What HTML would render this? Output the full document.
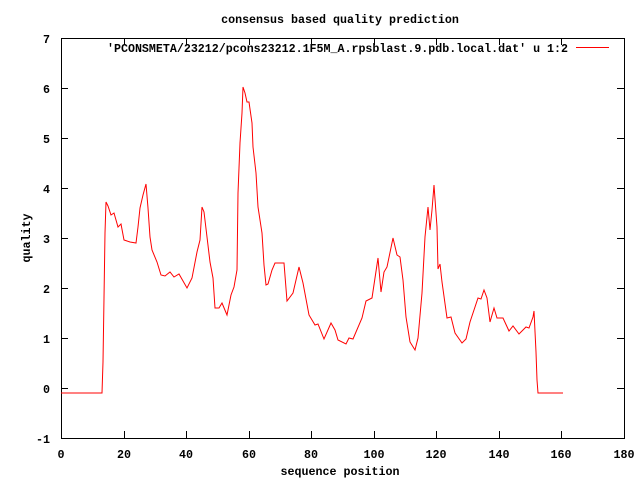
<!DOCTYPE html>
<html><head><style>body{margin:0;background:#fff}svg text{font-family:"Liberation Mono",monospace;font-size:11.67px;font-weight:bold;fill:#000}</style></head>
<body>
<svg width="640" height="480" xmlns="http://www.w3.org/2000/svg">
<rect x="61.5" y="38.5" width="563" height="400" fill="none" stroke="#000" stroke-width="1"/>
<g stroke="#000" stroke-width="1">
<path d="M61 38.5h7M61 88.5h7M61 138.5h7M61 188.5h7M61 238.5h7M61 288.5h7M61 338.5h7M61 388.5h7M61 438.5h7"/>
<path d="M624 88.5h-7M624 138.5h-7M624 188.5h-7M624 238.5h-7M624 288.5h-7M624 338.5h-7M624 388.5h-7"/>
<path d="M61.5 438v-7M124.5 438v-7M186.5 438v-7M249.5 438v-7M311.5 438v-7M374.5 438v-7M436.5 438v-7M499.5 438v-7M561.5 438v-7M624.5 438v-7"/>
<path d="M124.5 38v7M186.5 38v7M249.5 38v7M311.5 38v7M374.5 38v7M436.5 38v7M499.5 38v7M561.5 38v7"/>
</g>
<g text-anchor="end">
<text x="50" y="43">7</text><text x="50" y="93">6</text><text x="50" y="143">5</text><text x="50" y="193">4</text><text x="50" y="243">3</text><text x="50" y="293">2</text><text x="50" y="343">1</text><text x="50" y="393">0</text><text x="50" y="443">-1</text>
</g>
<g text-anchor="middle">
<text x="61" y="458">0</text><text x="124" y="458">20</text><text x="186" y="458">40</text><text x="249" y="458">60</text><text x="311" y="458">80</text><text x="374" y="458">100</text><text x="436" y="458">120</text><text x="499" y="458">140</text><text x="561" y="458">160</text><text x="624" y="458">180</text>
<text x="340" y="475">sequence position</text>
<text x="340" y="23">consensus based quality prediction</text>
<text transform="translate(30,238) rotate(-90)">quality</text>
</g>
<text x="107" y="52" textLength="461" lengthAdjust="spacingAndGlyphs">'PCONSMETA/23212/pcons23212.1F5M_A.rpsblast.9.pdb.local.dat' u 1:2</text>
<rect x="576" y="47" width="33" height="1" fill="#ff0000"/>
<polyline fill="none" stroke="#f00" stroke-width="1" points="61,393 102,393 103,362 104,298 105,233 106,202 108,206 111,215 114,213 118,227 121,224 124,240 130,242 136,243 138,227 140,208 143,195 146,184 148,208 150,237 152,250 157,262 161,275 165,276 170,272 174,277 179,274 187,288 192,278 197,252 200,240 202,207 204,212 207,237 210,262 213,278 215,308 219,308 222,303 227,315 231,295 234,287 237,270 238,193 240,143 242,113 243,87 245,93 247,102 249,102 252,123 253,147 256,173 258,207 262,233 264,265 266,285 268,284 272,270 275,263 284,263 287,301 293,293 299,267 303,283 309,315 315,325 318,324 324,339 331,323 335,330 338,340 346,344 349,338 353,339 362,318 366,301 372,298 378,258 381,292 384,272 387,267 393,238 397,255 400,257 403,280 406,317 410,342 415,350 418,338 422,293 425,237 428,207 430,230 432,210 434,185 437,227 438,269 440,264 442,282 447,318 451,317 455,333 462,343 466,339 470,322 478,298 481,299 484,290 487,298 490,322 494,308 497,318 503,318 509,331 513,326 519,334 526,327 529,328 533,317 534,311 536,352 537,380 538,393 563,393"/>
</svg>
</body></html>
